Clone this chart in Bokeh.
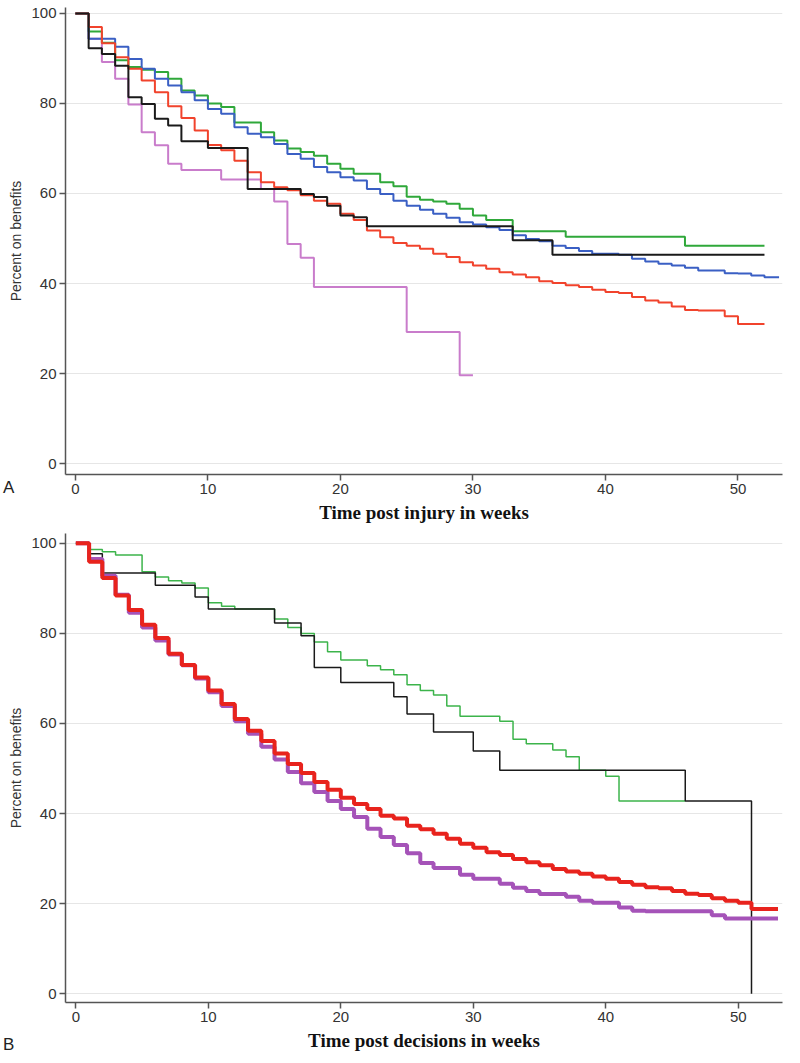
from bokeh.plotting import figure
from bokeh.layouts import column
from bokeh.models import FixedTicker, Range1d, Div
from bokeh.embed import file_html
from bokeh.resources import INLINE

# ---------------- Panel A: time post injury (weekly survival values) ----------------
a_green = [100, 96, 93.5, 89.6, 88.1, 87.5, 87, 85.5, 82.9, 81.8, 80, 79.2, 75.8, 75.8, 73.6, 71.8,
           70, 69.2, 68.4, 66.6, 65.5, 64.4, 64.4, 62.5, 61.6, 59.3, 58.6, 58.2, 57.7, 56.6, 55.1,
           54.1, 54.1, 51.6, 51.6, 51.6, 51.6, 50.4, 50.4, 50.4, 50.4, 50.4, 50.4, 50.4, 50.4, 50.4,
           48.4, 48.4, 48.4, 48.4, 48.4, 48.4]
a_green_end = 52
a_blue = [100, 94.4, 94.4, 92.6, 89.9, 87.7, 85.5, 84, 82.5, 80.7, 78.8, 77.7, 74.7, 73.3, 72.5, 71,
          68.8, 67.7, 65.9, 64.7, 63.6, 62.9, 61, 59.9, 58.4, 57.3, 56.4, 55.5, 54.6, 53.6, 53.1,
          52.5, 51.9, 50.7, 49.9, 49.4, 48.4, 47.9, 47.2, 46.6, 46.6, 46.4, 45.5, 44.9, 44.4, 44,
          43.5, 42.9, 42.9, 42.3, 42.2, 41.8, 41.4]
a_blue_end = 53.1
a_black = [100, 92.3, 91, 88.4, 81.4, 79.9, 76.6, 75.1, 71.6, 71.6, 70.1, 70.1, 70.1, 61, 61, 61, 61,
           59.9, 59.2, 57.3, 55.1, 54.7, 52.7, 52.7, 52.7, 52.7, 52.7, 52.7, 52.7, 52.7, 52.7, 52.7,
           52.7, 49.6, 49.6, 49.6, 46.4, 46.4, 46.4, 46.4, 46.4, 46.4, 46.4, 46.4, 46.4, 46.4, 46.4,
           46.4, 46.4, 46.4, 46.4, 46.4]
a_black_end = 52
a_red = [100, 97, 93.4, 90.3, 87.7, 85.1, 82.5, 79.4, 76.8, 74, 70.8, 69.6, 67.3, 64.7, 62.5, 61.4,
         60.7, 59.6, 58.4, 57.7, 55.5, 54.1, 51.8, 50.3, 49, 48.4, 47.7, 46.6, 45.9, 44.7, 44, 43.3,
         42.5, 42, 41.4, 40.5, 40.1, 39.6, 39.2, 38.6, 38.1, 37.9, 37, 36.2, 35.8, 34.9, 34.1, 34,
         34, 32.7, 31, 31]
a_red_end = 52
a_pink = [100, 94.4, 89.2, 85.5, 79.8, 73.6, 70.7, 66.6, 65.2, 65.2, 65.2, 63.1, 63.1, 63.1, 61, 58.2,
          48.8, 45.7, 39.2, 39.2, 39.2, 39.2, 39.2, 39.2, 39.2, 29.2, 29.2, 29.2, 29.2, 19.6]
a_pink_end = 30

# ---------------- Panel B: time post decisions (weekly survival values) ----------------
b_green = [100, 98.6, 98.1, 97.4, 97.4, 93.7, 92.5, 91.7, 91.2, 90.1, 86.8, 86, 85.4, 85.4, 85.4,
           83.2, 81.3, 80, 78.1, 75.9, 74.1, 74.1, 72.8, 71.9, 70.8, 68.6, 67.3, 66.3, 63.9, 61.6,
           61.6, 61.6, 60.5, 56.5, 55.5, 55.5, 54.1, 52.6, 49.6, 49.6, 48.3, 42.8, 42.8, 42.8, 42.8,
           42.8]
b_green_end = 46
b_black = [100, 97.7, 93.4, 93.4, 93.4, 93.4, 90.7, 90.7, 90.7, 88.1, 85.4, 85.4, 85.4, 85.4, 85.4,
           82.3, 82.3, 79.5, 72.4, 72.4, 69.1, 69.1, 69.1, 69.1, 65.9, 62.1, 62.1, 58.1, 58.1, 58.1,
           53.9, 53.9, 49.6, 49.6, 49.6, 49.6, 49.6, 49.6, 49.6, 49.6, 49.6, 49.6, 49.6, 49.6, 49.6,
           49.6, 42.8, 42.8, 42.8, 42.8, 42.8, 0]
b_black_end = 51
b_red = [100, 95.9, 92.3, 88.4, 85.2, 81.9, 79, 75.5, 73, 70.2, 67.3, 64.3, 61, 58.4, 56.1, 53.3, 51,
         49, 47, 45.3, 43.5, 42.1, 41, 39.5, 38.9, 37.3, 36.5, 35.5, 34.4, 33.3, 32.4, 31.4, 30.8,
         29.9, 29.2, 28.5, 27.7, 27.1, 26.6, 26, 25.5, 24.8, 24.2, 23.6, 23.4, 22.8, 22.2, 21.9,
         21.2, 20.6, 20.2, 18.8, 18.8]
b_red_end = 53
b_purple = [100, 96.5, 92.8, 88.6, 84.6, 81.3, 78.4, 75.3, 72.9, 70.0, 66.9, 63.9, 60.5, 57.7, 54.8,
            52.0, 49.2, 46.7, 44.8, 42.8, 41.0, 39.2, 36.6, 34.8, 33.0, 31.2, 29, 27.9, 27.9, 26.4,
            25.5, 25.5, 24.4, 23.5, 22.8, 22.1, 22.1, 21.5, 20.6, 20.2, 20.2, 19.1, 18.4, 18.3, 18.3,
            18.3, 18.3, 18.3, 17.4, 16.7, 16.7, 16.7, 16.7]
b_purple_end = 53

y_ticks = [0, 20, 40, 60, 80, 100]
x_ticks = [0, 10, 20, 30, 40, 50]
panel_letters = ["A", "B"]


def steps(vals, end):
    xs = list(range(len(vals))) + [end]
    ys = list(vals) + [vals[-1]]
    return xs, ys


def style(p, xlabel):
    for ax in (p.xaxis[0], p.yaxis[0]):
        ax.major_tick_out = 6
        ax.major_tick_in = 0
        ax.minor_tick_out = 0
        ax.minor_tick_in = 0
        ax.axis_line_color = "#555555"
        ax.axis_line_width = 1.5
        ax.major_tick_line_color = "#555555"
        ax.major_tick_line_width = 1.5
        ax.major_label_text_font = "Liberation Sans"
        ax.major_label_text_font_size = "15px"
        ax.major_label_text_color = "#333333"
        ax.major_label_standoff = 3
    p.yaxis[0].ticker = FixedTicker(ticks=y_ticks)
    p.xaxis[0].ticker = FixedTicker(ticks=x_ticks)
    p.yaxis[0].axis_label = "Percent on benefits"
    p.yaxis[0].axis_label_text_font = "Liberation Sans"
    p.yaxis[0].axis_label_text_font_size = "14px"
    p.yaxis[0].axis_label_text_font_style = "normal"
    p.yaxis[0].axis_label_text_color = "#333333"
    p.yaxis[0].axis_label_standoff = 4
    p.xaxis[0].axis_label = xlabel
    p.xaxis[0].axis_label_text_font = "Liberation Serif"
    p.xaxis[0].axis_label_text_font_size = "19px"
    p.xaxis[0].axis_label_text_font_style = "bold"
    p.xaxis[0].axis_label_text_color = "#111111"
    p.xaxis[0].axis_label_standoff = 5
    p.xgrid.visible = False
    p.ygrid.ticker = FixedTicker(ticks=y_ticks)
    p.ygrid.grid_line_color = "#e6e6e6"
    p.ygrid.grid_line_width = 1.2
    p.outline_line_color = None
    p.background_fill_color = "white"
    p.border_fill_color = "white"


def letter(text, top):
    return Div(text=text, width=20, height=0, margin=0,
               styles={"position": "relative", "top": top, "left": "3px",
                       "font-family": "Liberation Sans", "font-size": "17px",
                       "line-height": "20px", "color": "#222222", "overflow": "visible"})


# ---------------- Figure A ----------------
pa = figure(width=784, height=528, x_range=Range1d(-0.746, 53.36), y_range=Range1d(-2.44, 101.33),
            output_backend="svg", toolbar_location=None,
            min_border_left=57, min_border_right=2, min_border_top=7, min_border_bottom=54)
style(pa, "Time post injury in weeks")

for vals, end, col in [(a_pink, a_pink_end, "#c97ccb"), (a_green, a_green_end, "#2fa83a"),
                       (a_blue, a_blue_end, "#3a5fc4"), (a_red, a_red_end, "#f1432c"),
                       (a_black, a_black_end, "#1a1a1a")]:
    xs, ys = steps(vals, end)
    pa.step(xs, ys, mode="after", line_color=col, line_width=2)

# ---------------- Figure B ----------------
pb = figure(width=784, height=527, x_range=Range1d(-0.78, 53.34), y_range=Range1d(-1.97, 102.18),
            output_backend="svg", toolbar_location=None,
            min_border_left=65, min_border_right=2, min_border_top=5, min_border_bottom=53)
style(pb, "Time post decisions in weeks")

for vals, end, col, w in [(b_green, b_green_end, "#3cb44b", 1.5), (b_black, b_black_end, "#1a1a1a", 1.5),
                          (b_purple, b_purple_end, "#a553b8", 4), (b_red, b_red_end, "#e8231d", 4)]:
    xs, ys = steps(vals, end)
    pb.step(xs, ys, mode="after", line_color=col, line_width=w)

layout = column(pa, letter(panel_letters[0], "-50px"), pb, letter(panel_letters[1], "-20px"), spacing=0)
open("out.html", "w").write(file_html(layout, INLINE))
